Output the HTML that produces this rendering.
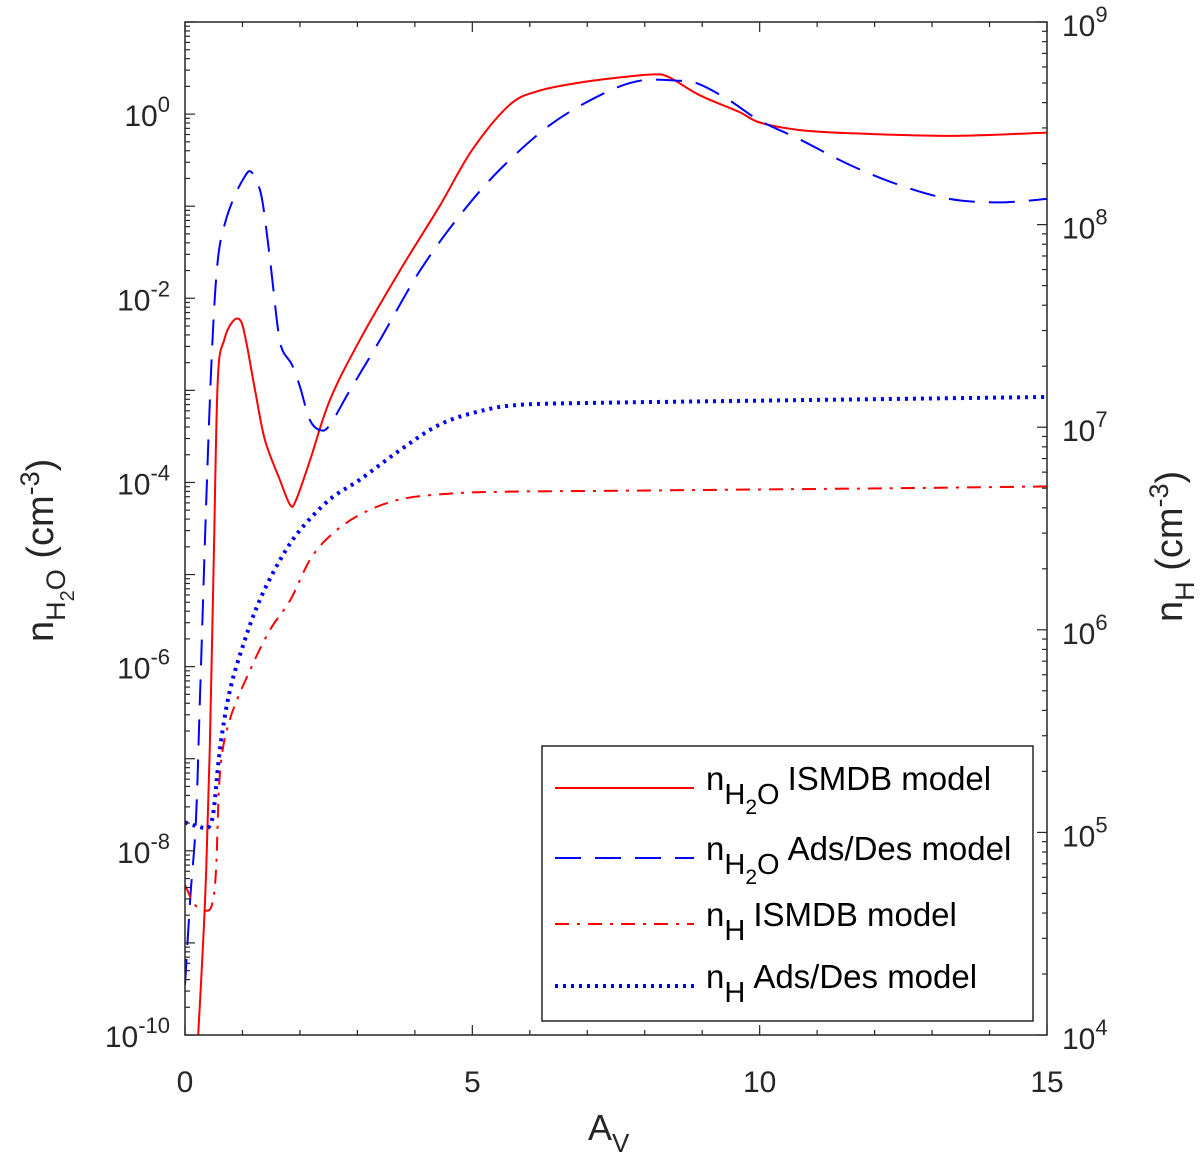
<!DOCTYPE html>
<html><head><meta charset="utf-8"><style>
html,body{margin:0;padding:0;background:#fff;width:1200px;height:1164px;overflow:hidden}
svg{display:block;font-family:"Liberation Sans",Arial,sans-serif}
</style></head><body>
<svg id="chart" width="1200" height="1164" viewBox="0 0 1200 1164"></svg>
<script>
const xISM = [0.23,0.35,0.43,0.5,0.57,0.68,0.82,0.96,1.06,1.22,1.39,1.65,1.83,1.93,2.17,2.52,3.04,3.74,4.43,5.0,5.65,6.17,6.87,7.57,8.17,8.43,8.96,9.65,10,10.7,11.57,13.3,15];
const h2oISM = [1e-10,3e-9,1.2e-7,1.4e-5,1.3e-3,3.5e-3,5.5e-3,5.8e-3,3.5e-3,1e-3,2.9e-4,1.07e-4,5.7e-5,6.4e-5,1.7e-4,7.8e-4,3.5e-3,2e-2,0.1,0.41,1.26,1.8,2.2,2.5,2.7,2.5,1.6,1.05,0.81,0.67,0.62,0.58,0.63];
const xAds = [0,0.09,0.19,0.26,0.37,0.47,0.57,0.71,0.89,1.04,1.13,1.22,1.34,1.48,1.62,1.7,1.86,2.0,2.17,2.35,2.52,2.87,3.39,4.09,4.78,5.48,6.35,7.22,7.91,8.61,8.96,9.48,10,10.7,11.57,12.43,13.3,14.17,15];
const h2oAds = [3.5e-10,3e-9,2.1e-8,4.4e-7,6.5e-5,2.7e-3,2.6e-2,7e-2,0.14,0.21,0.24,0.2,0.12,2.6e-2,4.5e-3,2.7e-3,1.9e-3,1.1e-3,4.8e-4,3.7e-4,4.2e-4,1e-3,3.5e-3,2e-2,7.9e-2,0.25,0.76,1.6,2.3,2.3,2.1,1.4,0.85,0.53,0.28,0.17,0.12,0.11,0.12];
const xNhAds = [0,0.17,0.35,0.43,0.5,0.61,0.78,1.04,1.3,1.65,2.0,2.52,3.04,3.74,4.43,5.13,5.83,7.22,8.96,10.7,12.43,15];
const nhAds = [1.12e5,1.08e5,1.05e5,1.08e5,1.29e5,2.6e5,5e5,8.9e5,1.4e6,2.2e6,3.1e6,4.4e6,5.5e6,7.7e6,1.03e7,1.2e7,1.29e7,1.32e7,1.34e7,1.36e7,1.38e7,1.41e7];
const xNhISM = [0,0.17,0.35,0.47,0.54,0.61,0.78,1.13,1.48,1.83,2.17,2.52,3.04,3.74,4.61,5.48,7.22,8.96,10.7,12.43,15];
const nhISM = [5.5e4,4.4e4,4.1e4,4.4e4,6.5e4,2.0e5,3.6e5,6.3e5,1.0e6,1.4e6,2.2e6,2.9e6,3.7e6,4.4e6,4.7e6,4.8e6,4.85e6,4.9e6,4.95e6,5.0e6,5.1e6];
const xTicks = [0,5,10,15];
const leftExps = [-10,-8,-6,-4,-2,0];
const rightExps = [4,5,6,7,8,9];

const NS='http://www.w3.org/2000/svg';
const svg=document.getElementById('chart');
const L=185,R=1047,T=22,B=1035;
const xs=v=>L+(v/15)*(R-L);
const yl=v=>B-(Math.log10(v)+10)/11*(B-T);
const yr=v=>B-(Math.log10(v)-4)/5*(B-T);
function mk(tag,attrs,parent){const e=document.createElementNS(NS,tag);for(const k in attrs)e.setAttribute(k,attrs[k]);(parent||svg).appendChild(e);return e;}

const clip=mk('clipPath',{id:'pc'});mk('rect',{x:L,y:T,width:R-L,height:B-T},clip);

function smoothPath(pts){
  let d='M'+pts[0][0].toFixed(1)+','+pts[0][1].toFixed(1);
  for(let i=0;i<pts.length-1;i++){
    const p0=pts[Math.max(0,i-1)],p1=pts[i],p2=pts[i+1],p3=pts[Math.min(pts.length-1,i+2)];
    const c1=[p1[0]+(p2[0]-p0[0])/6,p1[1]+(p2[1]-p0[1])/6];
    const c2=[p2[0]-(p3[0]-p1[0])/6,p2[1]-(p3[1]-p1[1])/6];
    d+=' C'+c1[0].toFixed(1)+','+c1[1].toFixed(1)+' '+c2[0].toFixed(1)+','+c2[1].toFixed(1)+' '+p2[0].toFixed(1)+','+p2[1].toFixed(1);
  }
  return d;
}
function series(xa,ya,fy,color,dash,w,name){
  const pts=xa.map((x,i)=>[xs(x),fy(ya[i])]);
  const p=mk('path',{d:smoothPath(pts),fill:'none',stroke:color,'stroke-width':w,'stroke-dasharray':dash,'clip-path':'url(#pc)','stroke-linejoin':'round'});
  
  
}
series(xISM,h2oISM,yl,'#ff0000','none',2,'h2o-ismdb-line');
series(xAds,h2oAds,yl,'#0000ff','26,14',2,'h2o-adsdes-line');
series(xNhISM,nhISM,yr,'#ff0000','14,8,3,8',2,'nh-ismdb-line');
series(xNhAds,nhAds,yr,'#0000ff','3,5',4,'nh-adsdes-line');

const box=mk('rect',{x:L,y:T,width:R-L,height:B-T,fill:'none',stroke:'#262626','stroke-width':1.5});


const g=mk('g',{stroke:'#262626','stroke-width':1.2});
for(let v=0;v<=15;v++){const x=xs(v);const len=xTicks.includes(v)?10:5;
  mk('line',{x1:x,x2:x,y1:B,y2:B-len},g);mk('line',{x1:x,x2:x,y1:T,y2:T+len},g);}
xTicks.forEach(v=>{const t=mk('text',{x:xs(v),y:1092,'font-size':30,'text-anchor':'middle',fill:'#262626'});t.textContent=v;
  
  });
for(let e=-10;e<=1;e++){for(let m=1;m<=9;m++){const v=m*Math.pow(10,e);if(v>10.0001)break;const y=yl(v);
  const len=m==1?10:5;mk('line',{x1:L,x2:L+len,y1:y,y2:y},g);}}
leftExps.forEach(e=>{const t=mk('text',{x:170,y:yl(Math.pow(10,e))+12,'font-size':30,'text-anchor':'end',fill:'#262626'});
  t.innerHTML='10<tspan dy="-14" font-size="22">'+e+'</tspan>';
  
  });
for(let e=4;e<=9;e++){for(let m=1;m<=9;m++){const v=m*Math.pow(10,e);if(v>1.0001e9)break;const y=yr(v);
  const len=m==1?10:5;mk('line',{x1:R,x2:R-len,y1:y,y2:y},g);}}
rightExps.forEach(e=>{const t=mk('text',{x:1062,y:yr(Math.pow(10,e))+14,'font-size':30,fill:'#262626'});
  t.innerHTML='10<tspan dy="-14" font-size="22">'+e+'</tspan>';
  
  });

const xt=mk('text',{x:588,y:1140,'font-size':36,fill:'#262626'});xt.innerHTML='A<tspan dy="12" font-size="26">V</tspan>';


const ylt=mk('text',{transform:'translate(53,642) rotate(-90)','font-size':38,fill:'#262626'});
ylt.innerHTML='n<tspan dy="12" font-size="27">H</tspan><tspan dy="9" font-size="20">2</tspan><tspan dy="-9" font-size="27">O</tspan><tspan dy="-12"> (cm</tspan><tspan dy="-14" font-size="27">-3</tspan><tspan dy="14">)</tspan>';


const yrt=mk('text',{transform:'translate(1182,622) rotate(-90)','font-size':38,fill:'#262626'});
yrt.innerHTML='n<tspan dy="12" font-size="27">H</tspan><tspan dy="-12"> (cm</tspan><tspan dy="-14" font-size="27">-3</tspan><tspan dy="14">)</tspan>';



const lg=mk('g',{});


mk('rect',{x:542,y:746,width:491,height:275,fill:'#fff',stroke:'#262626','stroke-width':1.5},lg);
const entries=[
 {y:788,c:'#ff0000',d:'none',w:2,sub:'H2O',txt:'ISMDB model',n:'legend-h2o-ismdb'},
 {y:858,c:'#0000ff',d:'26,14',w:2,sub:'H2O',txt:'Ads/Des model',n:'legend-h2o-adsdes'},
 {y:924,c:'#ff0000',d:'14,8,3,8',w:2,sub:'H',txt:'ISMDB model',n:'legend-nh-ismdb'},
 {y:986,c:'#0000ff',d:'3,5',w:4,sub:'H',txt:'Ads/Des model',n:'legend-nh-adsdes'}];
entries.forEach(en=>{const eg=mk('g',{},lg);
  
  
  mk('line',{x1:555,x2:694,y1:en.y,y2:en.y,stroke:en.c,'stroke-width':en.w,'stroke-dasharray':en.d},eg);
  const t=mk('text',{x:706,y:en.y+2,'font-size':33,fill:'#000'},eg);
  if(en.sub==='H2O') t.innerHTML='n<tspan dy="14" font-size="29">H</tspan><tspan dy="10" font-size="21">2</tspan><tspan dy="-10" font-size="29">O</tspan><tspan dy="-14" dx="8">'+en.txt+'</tspan>';
  else t.innerHTML='n<tspan dy="14" font-size="29">H</tspan><tspan dy="-14" dx="8">'+en.txt+'</tspan>';
});
</script>
</body></html>
